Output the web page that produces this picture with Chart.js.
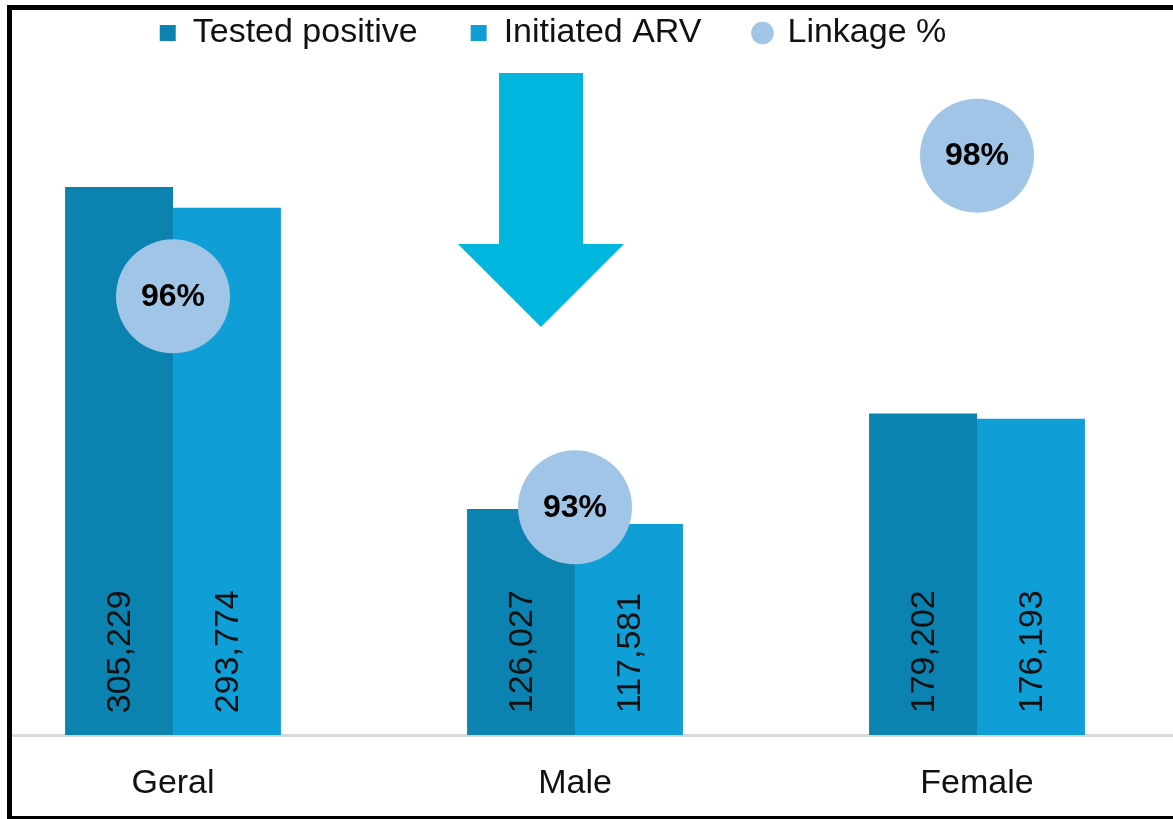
<!DOCTYPE html>
<html lang="en">
<head>
    <meta charset="UTF-8">
    <title>Linkage to ARV</title>
    <script src="https://cdn.jsdelivr.net/npm/chart.js"></script>
    <style>
        html, body { margin: 0; padding: 0; background: #fff; overflow: hidden; }
        body { width: 1173px; height: 819px; position: relative; }
        #clip { position: absolute; left: 12px; top: 10px; width: 1161px; height: 806px; overflow: hidden; }
        #chartBox { position: absolute; left: -84px; top: -47px; width: 1250px; height: 861px; }
        #frame {
            position: absolute; left: 7px; top: 5px; width: 1161px; height: 806px;
            border-left: 5px solid #000; border-top: 5px solid #000; border-bottom: 3px solid #000;
            pointer-events: none;
        }
        #arrow { position: absolute; left: 0; top: 0; }
    </style>
</head>
<body>
    <div id="clip">
        <div id="chartBox">
            <canvas id="chart"></canvas>
        </div>
    </div>
    <svg id="arrow" width="1173" height="819">
        <polygon points="499,73 583,73 583,244 624,244 541,327 458,244 499,244" fill="#00b5de"/>
    </svg>
    <div id="frame"></div>

    <script>
        const categories = ['Geral', 'Male', 'Female'];
        const testedPositive = [305229, 126027, 179202];
        const initiatedARV = [293774, 117581, 176193];
        const linkagePct = [96, 93, 98];

        // numbers inside the bars, written upward from the base
        const barLabels = {
            id: 'barLabels',
            afterDatasetsDraw(chart) {
                const ctx = chart.ctx;
                ctx.save();
                ctx.fillStyle = '#111';
                ctx.font = '34px "Liberation Sans", Arial, sans-serif';
                ctx.textAlign = 'left';
                ctx.textBaseline = 'middle';
                [0, 1].forEach(i => {
                    const ds = chart.data.datasets[i];
                    chart.getDatasetMeta(i).data.forEach((bar, j) => {
                        ctx.save();
                        ctx.translate(bar.x + 2, bar.base - 22);
                        ctx.rotate(-Math.PI / 2);
                        ctx.fillText(ds.data[j].toLocaleString('en-US'), 0, 0);
                        ctx.restore();
                    });
                });
                // percentages in the circles
                ctx.font = 'bold 32px "Liberation Sans", Arial, sans-serif';
                ctx.textAlign = 'center';
                ctx.fillStyle = '#000';
                chart.getDatasetMeta(2).data.forEach((pt, j) => {
                    ctx.fillText(linkagePct[j] + '%', pt.x, pt.y + 1);
                });
                ctx.restore();
            }
        };

        new Chart(document.getElementById('chart'), {
            data: {
                labels: categories,
                datasets: [
                    {
                        type: 'bar',
                        label: 'Tested positive',
                        data: testedPositive,
                        backgroundColor: '#0b82b0',
                        barPercentage: 1,
                        categoryPercentage: 0.537,
                        pointStyle: 'rect',
                        order: 2
                    },
                    {
                        type: 'bar',
                        label: 'Initiated ARV',
                        data: initiatedARV,
                        backgroundColor: '#109ed7',
                        barPercentage: 1,
                        categoryPercentage: 0.537,
                        pointStyle: 'rect',
                        order: 2
                    },
                    {
                        type: 'line',
                        label: 'Linkage %',
                        data: linkagePct,
                        yAxisID: 'y2',
                        showLine: false,
                        pointStyle: 'circle',
                        pointRadius: 57,
                        pointHoverRadius: 57,
                        pointBorderWidth: 0,
                        backgroundColor: '#a0c5e6',
                        borderColor: '#a0c5e6',
                        order: 1
                    }
                ]
            },
            options: {
                responsive: true,
                maintainAspectRatio: false,
                animation: false,
                events: [],
                layout: { autoPadding: false, padding: 0 },
                plugins: {
                    tooltip: { enabled: false },
                    legend: {
                        position: 'top',
                        labels: {
                            usePointStyle: true,
                            boxWidth: 16,
                            boxHeight: 16,
                            padding: 53,
                            color: '#111',
                            font: { family: '"Liberation Sans", Arial, sans-serif', size: 34 },
                            sort: (a, b) => a.datasetIndex - b.datasetIndex
                        }
                    }
                },
                scales: {
                    x: {
                        grid: { display: false },
                        border: { display: true, color: '#d9d9d9', width: 3 },
                        ticks: {
                            color: '#111',
                            padding: 20,
                            font: { family: '"Liberation Sans", Arial, sans-serif', size: 34 }
                        }
                    },
                    y: {
                        min: 0,
                        max: 376000,
                        grid: { display: false },
                        border: { display: false },
                        ticks: { display: false },
                        afterFit(scale) { scale.width = 44; }
                    },
                    y2: {
                        display: false,
                        min: 89.76,
                        max: 99.36
                    }
                }
            },
            plugins: [barLabels]
        });
    </script>
</body>
</html>
